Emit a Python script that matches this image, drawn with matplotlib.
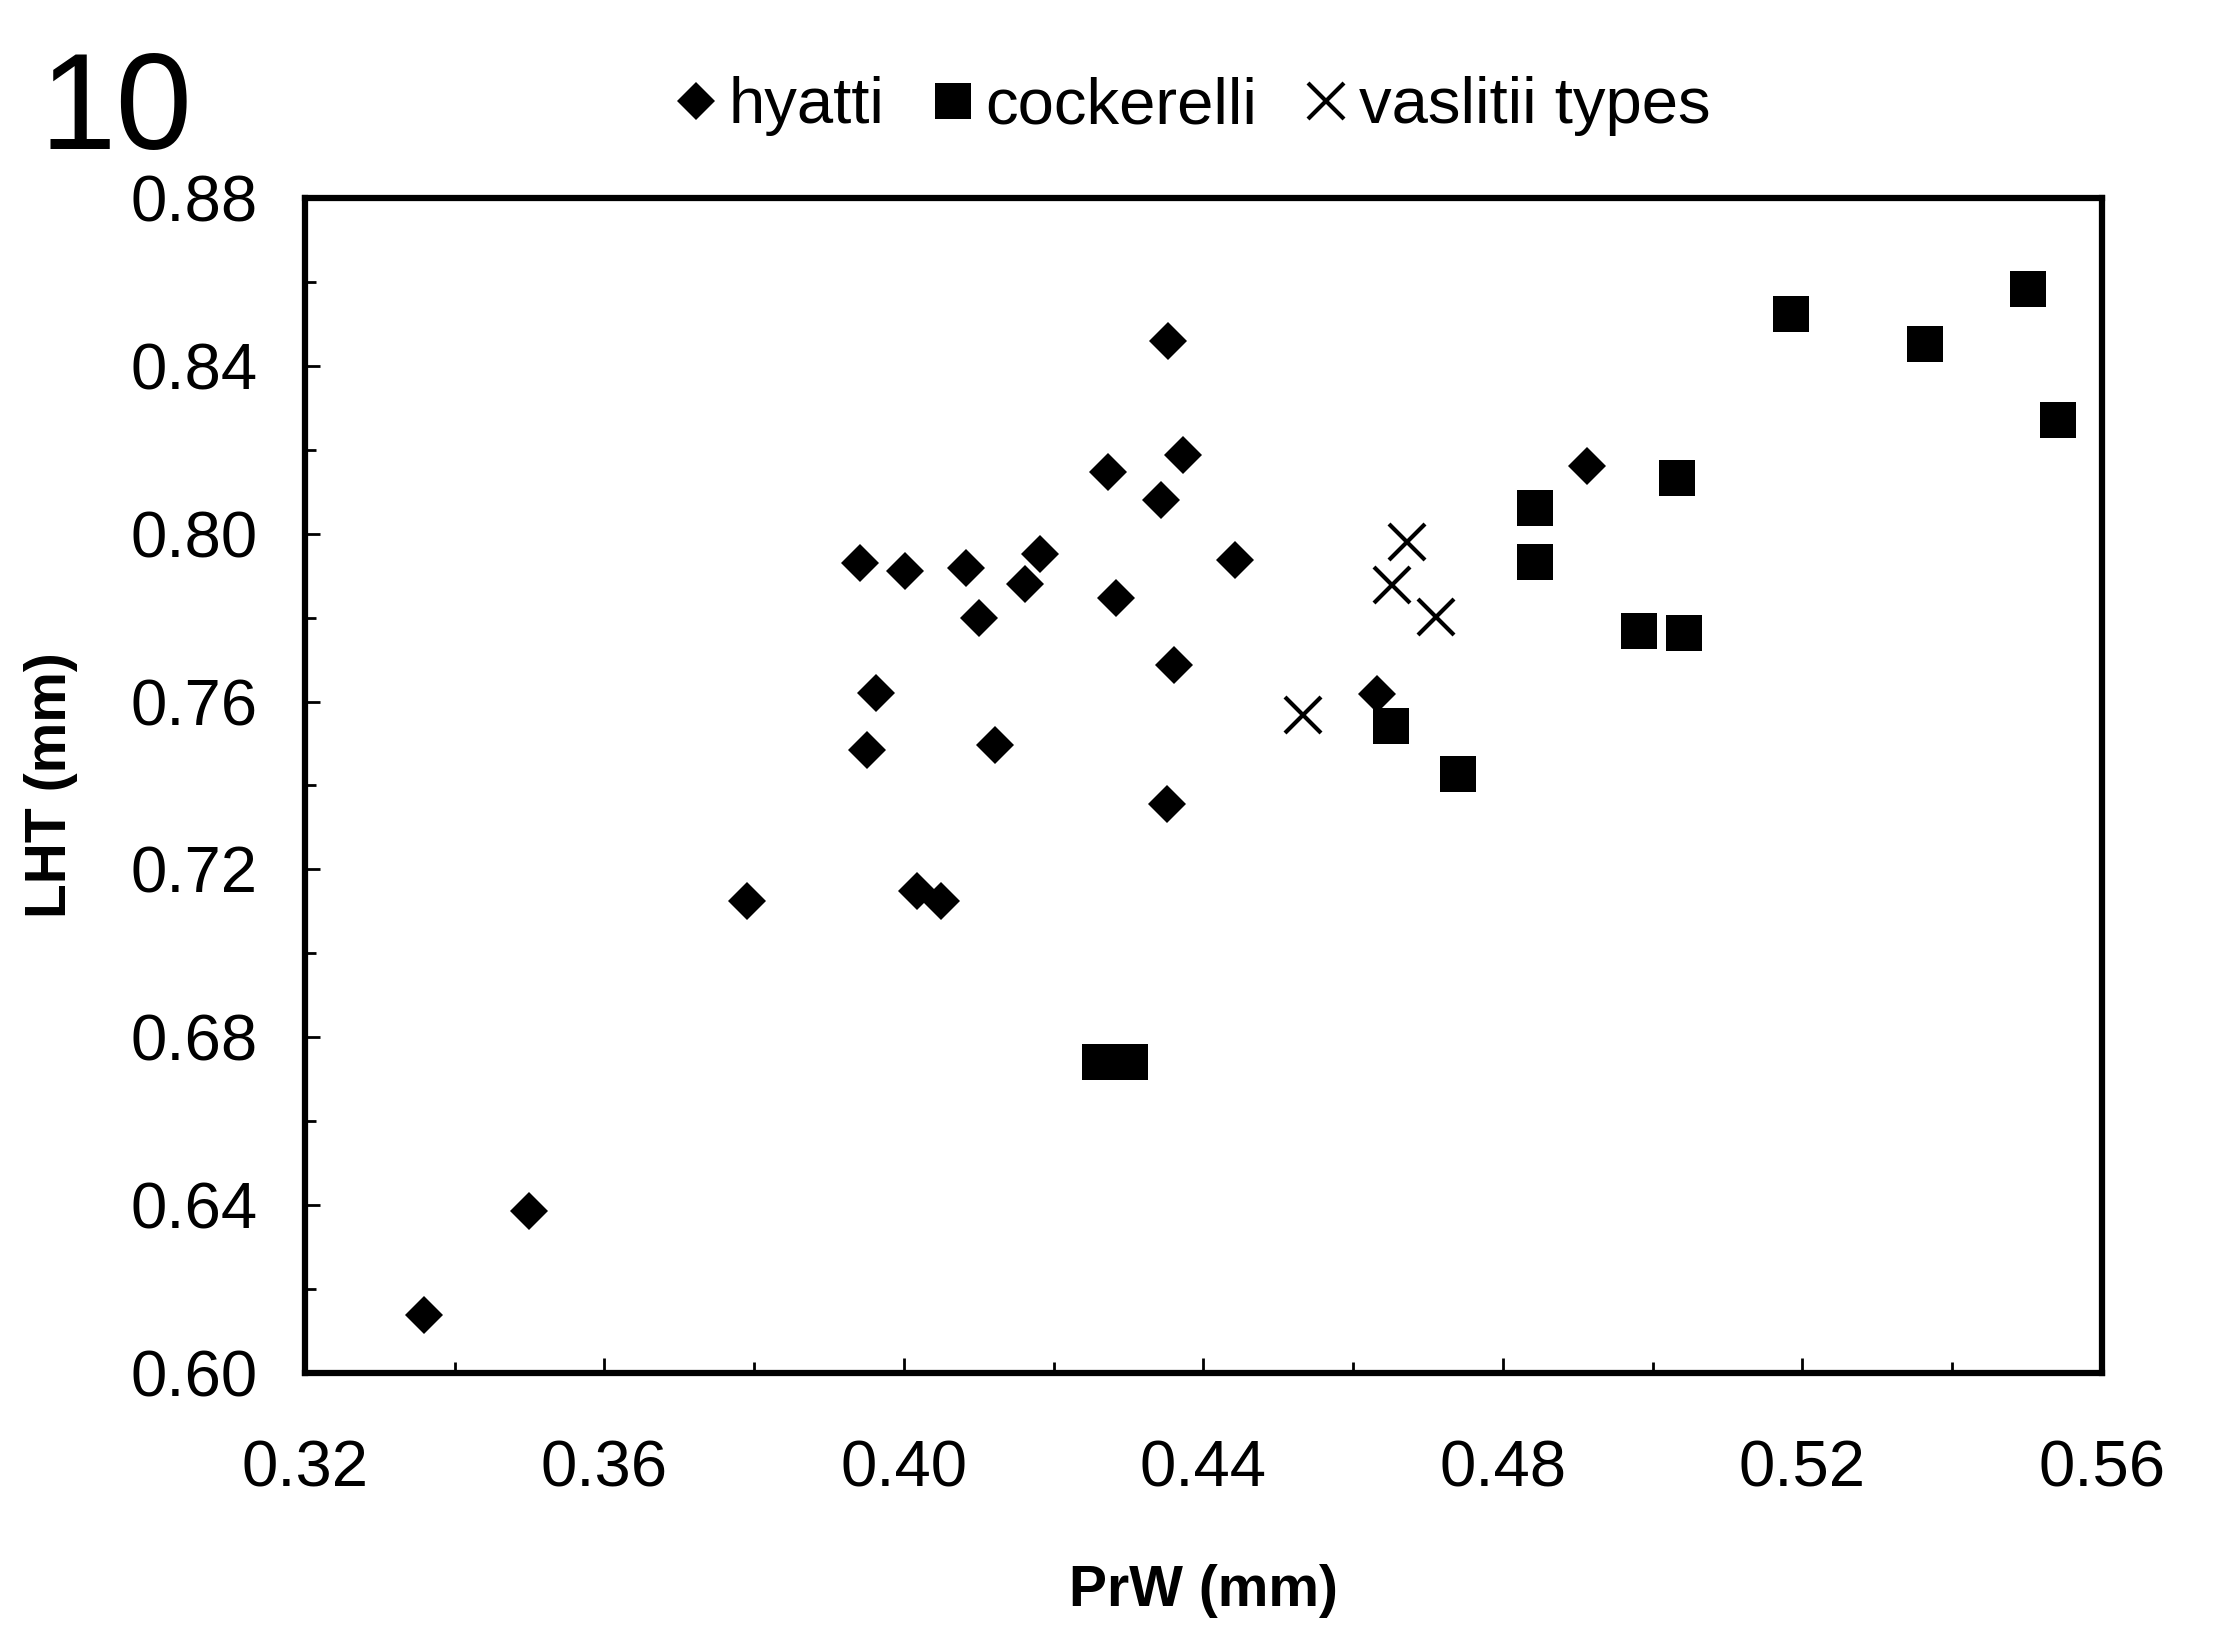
import matplotlib
matplotlib.use('Agg')
import matplotlib.pyplot as plt
from matplotlib.ticker import MultipleLocator, FormatStrFormatter

plt.rcParams['font.family'] = ['Liberation Sans', 'DejaVu Sans']

# data (PrW, LHT in mm)
hyatti_prw = [0.3359, 0.3499, 0.3790, 0.4017, 0.4049, 0.3941, 0.4002, 0.3962,
              0.3951, 0.4083, 0.4100, 0.4121, 0.4162, 0.4181, 0.4272, 0.4283,
              0.4343, 0.4353, 0.4373, 0.4361, 0.4351, 0.4442, 0.4632, 0.4912]
hyatti_lht = [0.6138, 0.6387, 0.7125, 0.7148, 0.7125, 0.7931, 0.7910, 0.7620,
              0.7485, 0.7917, 0.7799, 0.7496, 0.7880, 0.7951, 0.8147, 0.7847,
              0.8079, 0.8460, 0.8188, 0.7687, 0.7356, 0.7938, 0.7618, 0.8162]

cockerelli_prw = [0.4262, 0.4302, 0.4651, 0.4740, 0.4843, 0.4843, 0.4982,
                  0.5042, 0.5032, 0.5185, 0.5363, 0.5501, 0.5541]
cockerelli_lht = [0.6741, 0.6741, 0.7541, 0.7427, 0.8061, 0.7933, 0.7768,
                  0.7764, 0.8132, 0.8524, 0.8451, 0.8583, 0.8271]

vaslitii_prw = [0.4533, 0.4652, 0.4672, 0.4711]
vaslitii_lht = [0.7568, 0.7878, 0.7979, 0.7802]

series_names = ['hyatti', 'cockerelli', 'vaslitii types']

fig = plt.figure(figsize=(22.18, 16.37), dpi=100)
ax = fig.add_axes([0.1375, 0.1613, 0.8102, 0.7178])

ax.plot(hyatti_prw, hyatti_lht, 'D', color='black', markersize=19.5,
        markeredgewidth=0, label=series_names[0])
ax.plot(cockerelli_prw, cockerelli_lht, 's', color='black', markersize=26.5,
        markeredgewidth=0, label=series_names[1])
ax.plot(vaslitii_prw, vaslitii_lht, 'x', color='black', markersize=26,
        markeredgewidth=3, label=series_names[2])

ax.set_xlim(0.32, 0.56)
ax.set_ylim(0.60, 0.88)
ax.xaxis.set_major_locator(MultipleLocator(0.04))
ax.xaxis.set_minor_locator(MultipleLocator(0.02))
ax.yaxis.set_major_locator(MultipleLocator(0.04))
ax.yaxis.set_minor_locator(MultipleLocator(0.02))
ax.xaxis.set_major_formatter(FormatStrFormatter('%.2f'))
ax.yaxis.set_major_formatter(FormatStrFormatter('%.2f'))

ax.tick_params(axis='x', which='both', direction='in', top=False, pad=48,
               labelsize=47, width=2)
ax.tick_params(axis='y', which='both', direction='in', right=False, pad=34,
               labelsize=47, width=2)
ax.tick_params(which='major', length=11)
ax.tick_params(which='minor', length=8)

for sp in ax.spines.values():
    sp.set_linewidth(4.5)

ax.set_xlabel('PrW (mm)', fontsize=41, fontweight='bold')
ax.set_ylabel('LHT (mm)', fontsize=41, fontweight='bold')
ax.xaxis.set_label_coords(0.5, -0.1855)
ax.xaxis.label.set_va('center')
ax.yaxis.set_label_coords(-0.1413, 0.5)
ax.yaxis.label.set_va('center')

# legend above the plot
fig.legend(loc='center', bbox_to_anchor=(0.538, 0.935), ncol=3, frameon=False,
           fontsize=47, handlelength=0.6, handletextpad=0.2, columnspacing=0.75,
           borderpad=0, borderaxespad=0)

# panel number
fig.text(40 / 2218, 1 - 149 / 1637, '10', fontsize=99, va='baseline', ha='left')

plt.savefig('out.png', dpi=100)
